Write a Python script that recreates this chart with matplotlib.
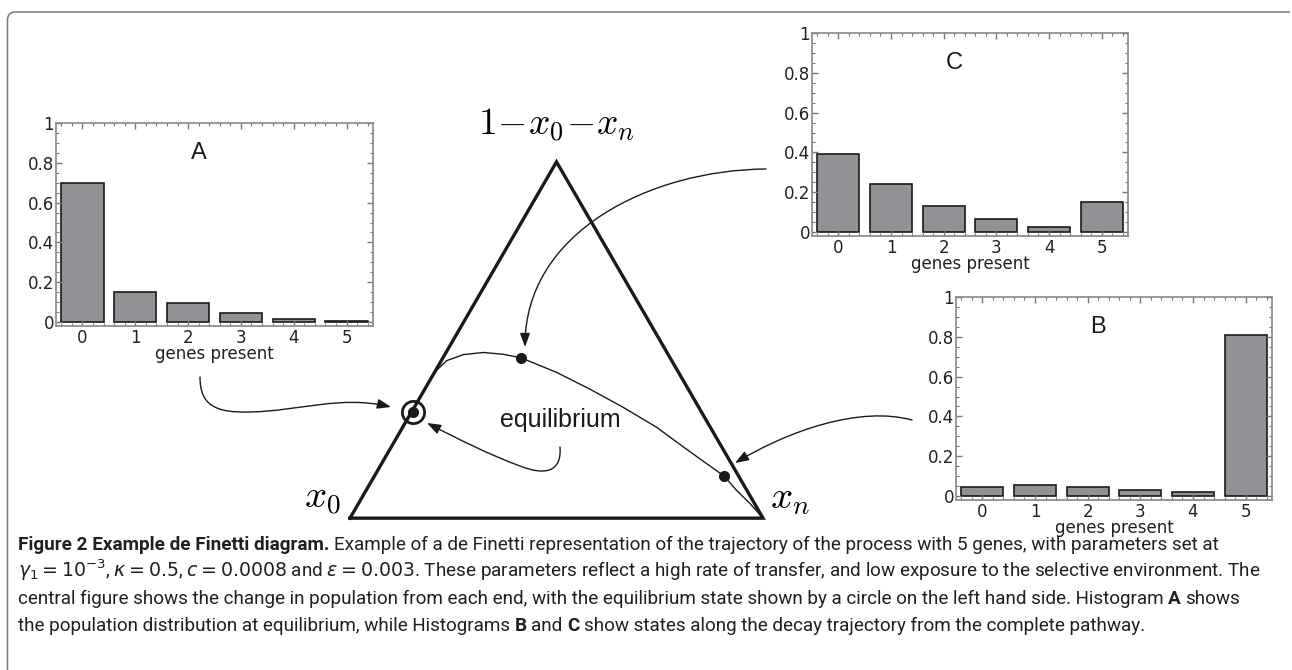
#!/usr/bin/env python3

import numpy as np
import matplotlib
matplotlib.use('Agg')
from matplotlib import pyplot as plt
from matplotlib.path import Path
from matplotlib.patches import FancyArrowPatch, PathPatch
from matplotlib.ticker import MultipleLocator

# histogram data (fraction of population vs genes present)
genes = [0, 1, 2, 3, 4, 5]
hist_a = [0.70, 0.15, 0.095, 0.045, 0.015, 0.005]
hist_b = [0.045, 0.055, 0.045, 0.03, 0.02, 0.81]
hist_c = [0.39, 0.24, 0.13, 0.065, 0.025, 0.15]
ytick_vals = [0, 0.2, 0.4, 0.6, 0.8, 1]
ytick_labels = ['0', '0.2', '0.4', '0.6', '0.8', '1']

# trajectory in the simplex, as (x_0, x_n) fractions
traj_x0 = [0.0, 0.011, 0.025, 0.035, 0.060, 0.093, 0.130, 0.183, 0.238, 0.295,
           0.361, 0.399, 0.445, 0.496, 0.545, 0.580, 0.610, 0.655, 0.700]
traj_xn = [1.0, 0.948, 0.897, 0.847, 0.787, 0.707, 0.615, 0.506, 0.400, 0.296,
           0.189, 0.141, 0.090, 0.045, 0.013, 0.003, 0.0, 0.001, 0.003]
# marked states: equilibrium (A), C, B
state_x0 = [0.700, 0.361, 0.035]
state_xn = [0.003, 0.189, 0.847]

W, H = 1292, 670
fig = plt.figure(figsize=(W / 100, H / 100), dpi=100)
ink = '#1a1a1a'


def px_rect(left, top, right, bottom):
    return [left / W, 1 - bottom / H, (right - left) / W, (bottom - top) / H]


def to_xy(x0, xn):
    x0 = np.asarray(x0, float)
    xn = np.asarray(xn, float)
    t = 1 - x0 - xn
    return xn + 0.5 * t, np.sqrt(3) / 2 * t


def draw_hist(rect, vals, label):
    ax = fig.add_axes(rect)
    ax.bar(genes, vals, width=0.8, color='#929296', edgecolor=ink, linewidth=1.2)
    ax.set_xlim(-0.5, 5.5)
    ax.set_ylim(-0.02, 1.0)
    ax.set_xticks(genes)
    ax.set_yticks(ytick_vals)
    ax.set_yticklabels(ytick_labels)
    ax.xaxis.set_minor_locator(MultipleLocator(0.2))
    ax.yaxis.set_minor_locator(MultipleLocator(0.05))
    ax.tick_params(which='both', direction='in', top=True, right=True,
                   color='#777777', labelsize=12, labelcolor='#222222')
    ax.tick_params(which='major', length=4, width=1)
    ax.tick_params(which='minor', length=2, width=0.8)
    ax.tick_params(axis='x', pad=2)
    ax.tick_params(axis='y', pad=1.5)
    for sp in ax.spines.values():
        sp.set_color('#888888')
        sp.set_linewidth(1.2)
    ax.set_xlabel('genes present', fontsize=12, color='#222222', labelpad=-1)
    ax.text(2.2, 0.85, label, fontsize=17, ha='center', va='center',
            family=['Liberation Sans', 'DejaVu Sans'], color=ink)
    return ax


draw_hist(px_rect(56, 123, 373, 326), hist_a, 'A')
draw_hist(px_rect(812, 33, 1128, 236), hist_c, 'C')
draw_hist(px_rect(956, 297, 1272, 500), hist_b, 'B')

# de Finetti triangle
tri = fig.add_axes(px_rect(350 - 41.3, 162 - 41.3, 763 + 41.3, 518 + 41.3))
tri.set_xlim(-0.1, 1.1)
tri.set_ylim(-0.1, np.sqrt(3) / 2 + 0.1)
tri.axis('off')

cu, cv = to_xy([1, 0, 0, 1], [0, 1, 0, 0])
tri.plot(cu, cv, color=ink, lw=2.4, solid_joinstyle='miter')
tu, tv = to_xy(traj_x0, traj_xn)
tri.plot(tu, tv, color=ink, lw=1.0)
su, sv = to_xy(state_x0, state_xn)
tri.plot(su, sv, 'o', color=ink, ms=7)
tri.plot(su[0], sv[0], 'o', mfc='none', mec=ink, ms=16, mew=2)

mfam = 'cm'
tri.text(0.5, np.sqrt(3) / 2 + 0.09, r'$1\!-\!x_0\!-\!x_n$', fontsize=27,
         ha='center', va='center', math_fontfamily=mfam, clip_on=False)
tri.text(-0.068, 0.048, r'$x_0$', fontsize=28, ha='center', va='center',
         math_fontfamily=mfam, clip_on=False)
tri.text(1.065, 0.048, r'$x_n$', fontsize=28, ha='center', va='center',
         math_fontfamily=mfam, clip_on=False)

# overlay in pixel coordinates for arrows, border and caption
ov = fig.add_axes([0, 0, 1, 1])
ov.set_xlim(0, W)
ov.set_ylim(H, 0)
ov.axis('off')

ov.text(560, 420, 'equilibrium', fontsize=18, ha='center', va='center',
        family=['Liberation Sans', 'DejaVu Sans'], color=ink)

C4 = Path.CURVE4
arrows = [
    ([(200, 377), (200, 405), (215, 413), (250, 412), (300, 411), (340, 395), (391, 407)],
     [Path.MOVETO, C4, C4, C4, C4, C4, C4]),
    ([(560, 447), (562, 472), (545, 476), (520, 466), (490, 455), (460, 440), (427, 423)],
     [Path.MOVETO, C4, C4, C4, C4, C4, C4]),
    ([(766, 169), (650, 170), (525, 232), (525, 347)],
     [Path.MOVETO, C4, C4, C4]),
    ([(912, 420), (860, 406), (790, 430), (735, 463)],
     [Path.MOVETO, C4, C4, C4]),
]
for verts, codes in arrows:
    ov.add_patch(FancyArrowPatch(path=Path(verts, codes),
                                 arrowstyle='-|>,head_length=0.55,head_width=0.2',
                                 mutation_scale=15, lw=1.0, color=ink,
                                 shrinkA=0, shrinkB=0))

# frame line with rounded top-left corner
frame = Path([(7.5, H), (7.5, 20), (7.5, 12), (15.5, 12), (1290, 12)],
             [Path.MOVETO, Path.LINETO, Path.CURVE3, Path.CURVE3, Path.LINETO])
ov.add_patch(PathPatch(frame, fill=False, edgecolor='#7a7a7a', lw=1.1))

# caption
cap_lines = [
    [('Figure 2 Example de Finetti diagram.', True),
     ('Example of a de Finetti representation of the trajectory of the process with 5 genes, with parameters set at', False)],
    [(r'$\gamma_1 = 10^{-3}$, $\kappa = 0.5$, $c = 0.0008$ and $\varepsilon = 0.003$. These parameters reflect a high rate of transfer, and low exposure to the selective environment. The', False)],
    [('central figure shows the change in population from each end, with the equilibrium state shown by a circle on the left hand side. Histogram', False),
     ('A', True), ('shows', False)],
    [('the population distribution at equilibrium, while Histograms', False), ('B', True),
     ('and', False), ('C', True),
     ('show states along the decay trajectory from the complete pathway.', False)],
]
cap_y = [550, 577, 604, 631]
cap_targets = [1240, 1240, 1250]   # widths of the full lines in pixels
cap_family = ['Liberation Sans Narrow', 'Roboto', 'DejaVu Sans']
cap_x0 = 18

renderer = fig.canvas.get_renderer()
rows = []
for line, y in zip(cap_lines, cap_y):
    row = []
    for seg, bold in line:
        row.append(ov.text(0, y, seg, fontsize=12, fontweight='bold' if bold else 'normal',
                           family=cap_family, va='baseline', ha='left', color='#231f20',
                           math_fontfamily='dejavusans'))
    rows.append(row)


def space_width(size):
    a = ov.text(0, 0, 'a a', fontsize=size, family=cap_family)
    b = ov.text(0, 0, 'aa', fontsize=size, family=cap_family)
    w = a.get_window_extent(renderer).width - b.get_window_extent(renderer).width
    a.remove()
    b.remove()
    return w


def line_width(row, size):
    sw = space_width(size)
    return sum(t.get_window_extent(renderer).width for t in row) + sw * (len(row) - 1)


size = min(12 * tw / line_width(r, 12) for tw, r in zip(cap_targets, rows))
for row in rows:
    for t in row:
        t.set_fontsize(size)
sw = space_width(size)
for row in rows:
    x = cap_x0
    for t in row:
        t.set_x(x)
        x += t.get_window_extent(renderer).width + sw

fig.savefig('out.png', dpi=100)
